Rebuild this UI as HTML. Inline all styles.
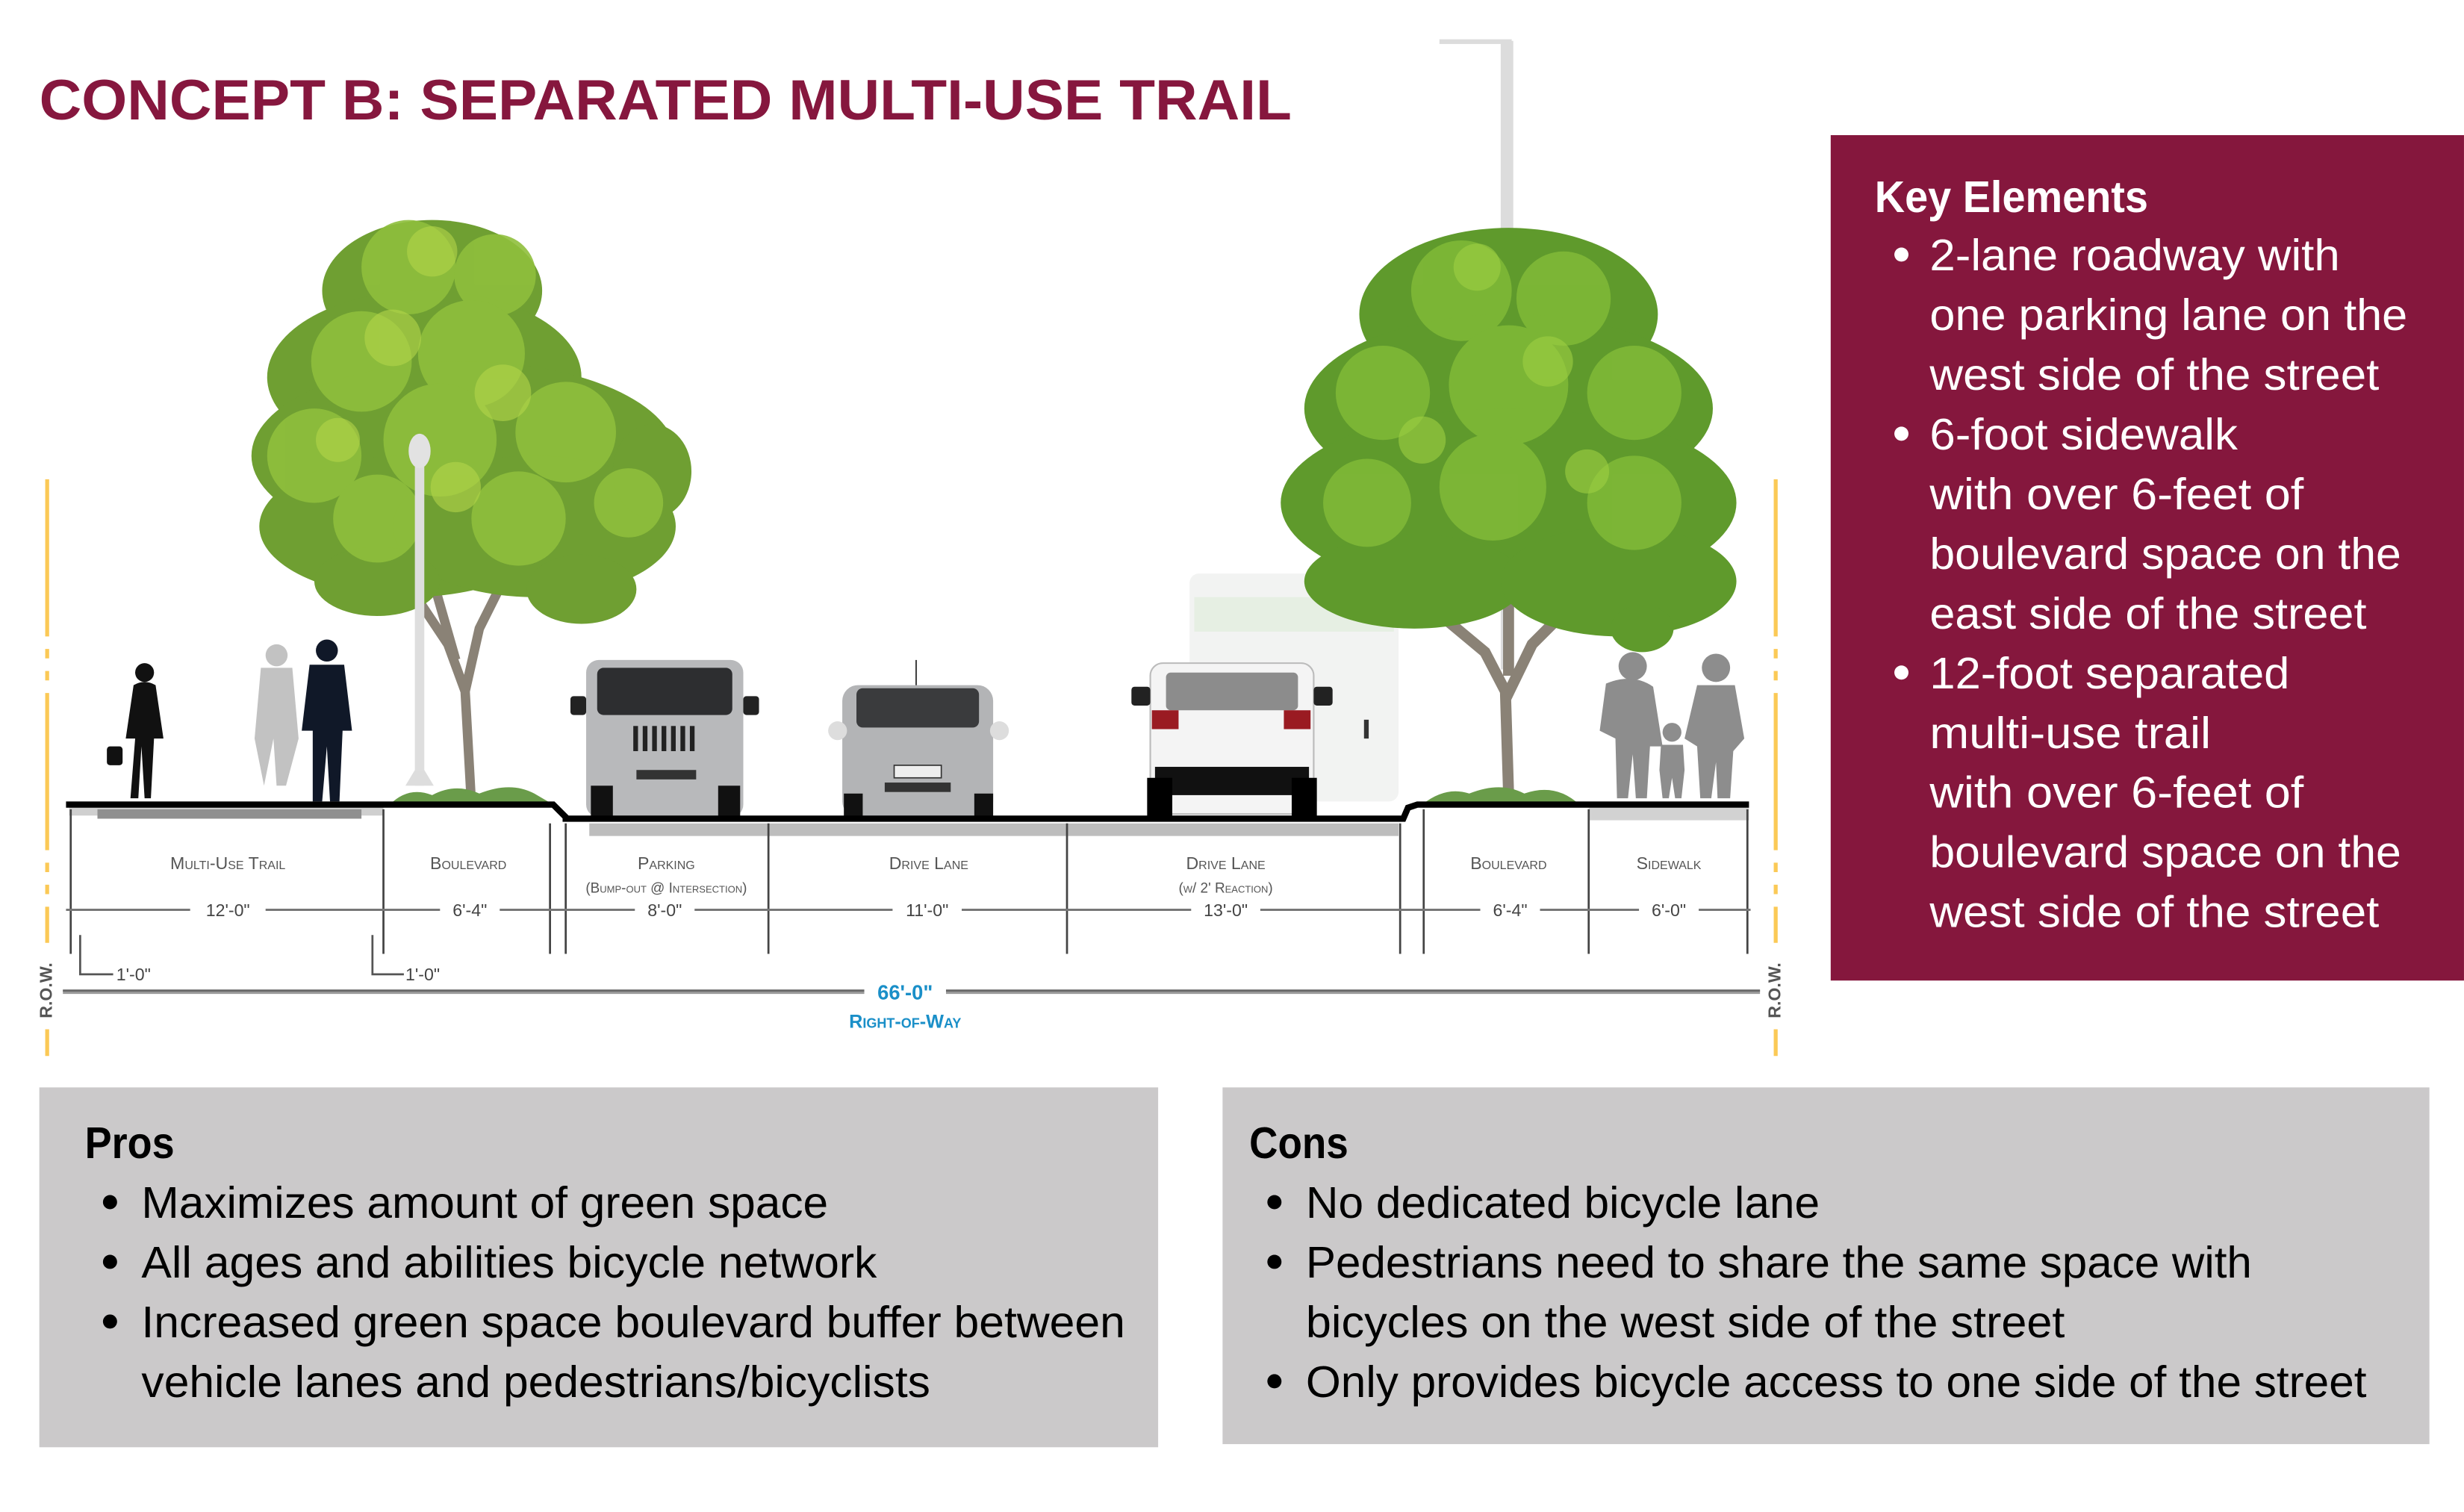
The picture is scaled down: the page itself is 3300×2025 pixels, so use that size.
<!DOCTYPE html>
<html><head><meta charset="utf-8"><style>
html,body{margin:0;padding:0;background:#fff}
svg{display:block}
.t{font-family:"Liberation Sans",sans-serif}
.n{font-family:"Liberation Sans Narrow","Liberation Sans",sans-serif}
</style></head><body>
<svg width="3300" height="2025" viewBox="0 0 1568 962.2" xmlns="http://www.w3.org/2000/svg">
<rect width="1568" height="962.2" fill="#fff"/>
<text class="t" x="25" y="76" font-size="36" font-weight="bold" fill="#86173e" textLength="797" lengthAdjust="spacingAndGlyphs">CONCEPT B: SEPARATED MULTI-USE TRAIL</text>

<rect x="955" y="26" width="8" height="400" fill="#dcdcdc"/>
<rect x="916" y="25" width="46" height="3" fill="#dcdcdc"/>
<rect x="757" y="365" width="133" height="145" rx="6" fill="#f2f3f2"/>
<rect x="760" y="380" width="127" height="22" fill="#e6efe3"/>
<rect x="868" y="458" width="3" height="12" fill="#333"/>

<!-- left tree -->
<g>
<path d="M300 512 L296 440 L285 410 L265 380 M296 440 L305 400 L320 370 M290 420 L270 350" stroke="#8a8276" stroke-width="6" fill="none"/>
<g fill="#6f9f32">
<ellipse cx="275" cy="185" rx="70" ry="45"/>
<ellipse cx="270" cy="240" rx="100" ry="55"/>
<ellipse cx="295" cy="290" rx="135" ry="60"/>
<ellipse cx="260" cy="335" rx="95" ry="45"/>
<ellipse cx="340" cy="335" rx="90" ry="45"/>
<ellipse cx="240" cy="370" rx="40" ry="22"/>
<ellipse cx="370" cy="375" rx="35" ry="22"/>
<ellipse cx="415" cy="300" rx="25" ry="30"/>
</g>
<g fill="#8fbf3c" opacity="0.9">
<circle cx="260" cy="170" r="30"/><circle cx="315" cy="175" r="26"/>
<circle cx="230" cy="230" r="32"/><circle cx="300" cy="225" r="34"/>
<circle cx="200" cy="290" r="30"/><circle cx="280" cy="280" r="36"/><circle cx="360" cy="275" r="32"/>
<circle cx="240" cy="330" r="28"/><circle cx="330" cy="330" r="30"/><circle cx="400" cy="320" r="22"/>
</g>
<g fill="#b4d64a" opacity="0.6">
<circle cx="275" cy="160" r="16"/><circle cx="250" cy="215" r="18"/><circle cx="320" cy="250" r="18"/><circle cx="215" cy="280" r="14"/><circle cx="290" cy="310" r="16"/>
</g>
</g>
<rect x="264" y="290" width="6" height="210" fill="#dedede"/>
<ellipse cx="267" cy="287" rx="7" ry="11" fill="#e2e2e2"/>
<path d="M258 500 L276 500 L270 490 L264 490Z" fill="#ddd"/>

<!-- right tree -->
<g>
<path d="M960 505 L958 440 L945 415 L915 390 M958 445 L975 410 L1000 385 M960 430 L960 380" stroke="#8a8276" stroke-width="7" fill="none"/>
<g fill="#5f9a2c">
<ellipse cx="960" cy="200" rx="95" ry="55"/>
<ellipse cx="960" cy="260" rx="130" ry="60"/>
<ellipse cx="960" cy="320" rx="145" ry="60"/>
<ellipse cx="900" cy="370" rx="70" ry="30"/>
<ellipse cx="1030" cy="370" rx="75" ry="35"/>
<ellipse cx="1045" cy="400" rx="20" ry="15"/>
</g>
<g fill="#7fb837" opacity="0.9">
<circle cx="930" cy="185" r="32"/><circle cx="995" cy="190" r="30"/>
<circle cx="880" cy="250" r="30"/><circle cx="960" cy="245" r="38"/><circle cx="1040" cy="250" r="30"/>
<circle cx="870" cy="320" r="28"/><circle cx="950" cy="310" r="34"/><circle cx="1040" cy="320" r="30"/>
</g>
<g fill="#9fd042" opacity="0.6">
<circle cx="940" cy="170" r="15"/><circle cx="985" cy="230" r="16"/><circle cx="905" cy="280" r="15"/><circle cx="1010" cy="300" r="14"/>
</g>
</g>

<path d="M248 512 Q260 500 275 506 Q290 498 305 505 Q325 497 340 505 L352 512Z" fill="#6a9c4a"/>
<path d="M905 512 Q920 500 935 505 Q955 497 970 505 Q990 498 1005 512Z" fill="#6a9c4a"/>

<g fill="#111">
<circle cx="92" cy="428" r="6"/>
<path d="M85 436 Q92 432 99 436 L104 470 L98 470 L96 508 L92 508 L90 475 L88 508 L83 508 L86 470 L80 470Z"/>
<rect x="68" y="475" width="10" height="12" rx="2"/>
</g>
<g fill="#c2c2c2">
<circle cx="176" cy="417" r="7"/>
<path d="M166 425 L186 425 L190 470 L182 500 L176 500 L174 470 L168 500 L162 470Z"/>
</g>
<g fill="#101828">
<circle cx="208" cy="414" r="7"/>
<path d="M197 423 L219 423 L224 465 L218 465 L216 510 L210 510 L208 475 L205 510 L199 510 L199 465 L192 465Z"/>
</g>
<g fill="#8d8d8d">
<circle cx="1039" cy="424" r="9"/>
<path d="M1022 435 Q1039 428 1052 437 L1058 475 L1050 475 L1048 508 L1041 508 L1039 480 L1036 508 L1029 508 L1028 470 L1018 465Z"/>
<circle cx="1064" cy="466" r="6"/>
<path d="M1057 474 L1071 474 L1072 490 L1070 508 L1066 508 L1064 495 L1062 508 L1058 508 L1056 490Z"/>
<circle cx="1092" cy="425" r="9"/>
<path d="M1080 436 L1104 436 L1110 470 L1103 478 L1101 508 L1093 508 L1092 485 L1089 508 L1082 508 L1080 475 L1072 470Z"/>
</g>

<g>
<rect x="373" y="420" width="100" height="100" rx="8" fill="#b8b9bb"/>
<rect x="380" y="425" width="86" height="30" rx="4" fill="#2d2e30"/>
<rect x="363" y="443" width="10" height="12" rx="2" fill="#222"/>
<rect x="473" y="443" width="10" height="12" rx="2" fill="#222"/>
<g fill="#222"><rect x="403" y="462" width="3" height="16"/><rect x="409" y="462" width="3" height="16"/><rect x="415" y="462" width="3" height="16"/><rect x="421" y="462" width="3" height="16"/><rect x="427" y="462" width="3" height="16"/><rect x="433" y="462" width="3" height="16"/><rect x="439" y="462" width="3" height="16"/></g>
<rect x="405" y="490" width="38" height="6" fill="#333"/>
<rect x="376" y="500" width="14" height="20" fill="#111"/><rect x="457" y="500" width="14" height="20" fill="#111"/>
</g>
<g>
<line x1="583" y1="420" x2="583" y2="437" stroke="#444" stroke-width="1"/>
<rect x="536" y="436" width="96" height="84" rx="10" fill="#b3b4b6"/>
<rect x="545" y="438" width="78" height="25" rx="4" fill="#3a3b3d"/>
<circle cx="533" cy="465" r="6" fill="#ddd"/><circle cx="636" cy="465" r="6" fill="#ddd"/>
<rect x="569" y="487" width="30" height="8" fill="#eee" stroke="#333" stroke-width="0.8"/>
<rect x="563" y="498" width="42" height="6" fill="#333"/>
<rect x="537" y="505" width="12" height="15" fill="#111"/><rect x="620" y="505" width="12" height="15" fill="#111"/>
</g>
<g>
<rect x="732" y="422" width="104" height="96" rx="8" fill="#f4f4f4" stroke="#bbb" stroke-width="1"/>
<rect x="742" y="428" width="84" height="24" rx="3" fill="#8c8c8c"/>
<rect x="720" y="437" width="12" height="12" rx="2" fill="#222"/><rect x="836" y="437" width="12" height="12" rx="2" fill="#222"/>
<rect x="733" y="452" width="17" height="12" fill="#9a1b22"/><rect x="817" y="452" width="17" height="12" fill="#9a1b22"/>
<rect x="735" y="488" width="98" height="18" fill="#111"/>
<rect x="730" y="495" width="16" height="25" fill="#000"/><rect x="822" y="495" width="16" height="25" fill="#000"/>
</g>

<rect x="44" y="513" width="200" height="6" fill="#cfcfcf"/>
<rect x="62" y="515" width="168" height="6" fill="#8f8f8f"/>
<rect x="375" y="524" width="515" height="8" fill="#bdbdbd"/>
<rect x="1011" y="514" width="102" height="8" fill="#d2d2d2"/>
<path d="M42 512 L352 512 L360 520 L360 521 L893 521 L896 514 L902 512 L1113 512" stroke="#000" stroke-width="4" fill="none"/>

<g stroke="#444" stroke-width="1.3">
<line x1="45" y1="515" x2="45" y2="607"/>
<line x1="244" y1="515" x2="244" y2="607"/>
<line x1="350" y1="524" x2="350" y2="607"/>
<line x1="360" y1="524" x2="360" y2="607"/>
<line x1="489" y1="524" x2="489" y2="607"/>
<line x1="679" y1="524" x2="679" y2="607"/>
<line x1="891" y1="524" x2="891" y2="607"/>
<line x1="906" y1="515" x2="906" y2="607"/>
<line x1="1011" y1="515" x2="1011" y2="607"/>
<line x1="1112" y1="515" x2="1112" y2="607"/>
</g>
<line x1="42" y1="579" x2="1114" y2="579" stroke="#777" stroke-width="1.4"/>
<g class="n" font-size="11" fill="#444" text-anchor="middle">
<rect x="121" y="572" width="48" height="14" fill="#fff"/><text x="145" y="583">12'-0"</text>
<rect x="280" y="572" width="38" height="14" fill="#fff"/><text x="299" y="583">6'-4"</text>
<rect x="404" y="572" width="38" height="14" fill="#fff"/><text x="423" y="583">8'-0"</text>
<rect x="568" y="572" width="44" height="14" fill="#fff"/><text x="590" y="583">11'-0"</text>
<rect x="758" y="572" width="44" height="14" fill="#fff"/><text x="780" y="583">13'-0"</text>
<rect x="942" y="572" width="38" height="14" fill="#fff"/><text x="961" y="583">6'-4"</text>
<rect x="1043" y="572" width="38" height="14" fill="#fff"/><text x="1062" y="583">6'-0"</text>
</g>
<g class="n" font-size="11" fill="#555" text-anchor="middle" style="font-variant:small-caps">
<text x="145" y="553">Multi-Use Trail</text>
<text x="298" y="553">Boulevard</text>
<text x="424" y="553">Parking</text>
<text x="424" y="568" font-size="9">(Bump-out @ Intersection)</text>
<text x="591" y="553">Drive Lane</text>
<text x="780" y="553">Drive Lane</text>
<text x="780" y="568" font-size="9">(w/ 2' Reaction)</text>
<text x="960" y="553">Boulevard</text>
<text x="1062" y="553">Sidewalk</text>
</g>
<path d="M51 595 L51 620 L72 620" stroke="#555" stroke-width="1.3" fill="none"/>
<path d="M237 595 L237 620 L257 620" stroke="#555" stroke-width="1.3" fill="none"/>
<g class="n" font-size="11" fill="#444"><text x="74" y="624">1'-0"</text><text x="258" y="624">1'-0"</text></g>
<line x1="40" y1="631" x2="1120" y2="631" stroke="#999" stroke-width="3"/>
<line x1="40" y1="630.5" x2="1120" y2="630.5" stroke="#666" stroke-width="1"/>
<rect x="550" y="623" width="52" height="16" fill="#fff"/>
<g class="n" fill="#1a8fc8" text-anchor="middle" font-weight="bold">
<text x="576" y="636" font-size="13">66'-0"</text>
<text x="576" y="654" font-size="12" style="font-variant:small-caps">Right-of-Way</text>
</g>
<g stroke="#fbc956" stroke-width="2.5" stroke-dasharray="100 8 6 8 6 8">
<line x1="30" y1="305" x2="30" y2="600"/>
<line x1="1130" y1="305" x2="1130" y2="600"/>
</g>
<line x1="30" y1="655" x2="30" y2="672" stroke="#fbc956" stroke-width="2.5"/>
<line x1="1130" y1="655" x2="1130" y2="672" stroke="#fbc956" stroke-width="2.5"/>
<g class="n" font-size="11" fill="#555" font-weight="bold">
<text transform="translate(33,648) rotate(-90)">R.O.W.</text>
<text transform="translate(1133,648) rotate(-90)">R.O.W.</text>
</g>

<rect x="1165" y="86" width="403" height="538" fill="#85173d"/>
<g class="t" fill="#fff" font-size="28">
<text x="1193" y="135" font-weight="bold" textLength="174" lengthAdjust="spacingAndGlyphs">Key Elements</text>
<circle cx="1210" cy="162" r="4.5"/><circle cx="1210" cy="276" r="4.5"/><circle cx="1210" cy="428" r="4.5"/>
<text x="1228" y="172" textLength="261" lengthAdjust="spacingAndGlyphs">2-lane roadway with</text>
<text x="1228" y="210" textLength="304" lengthAdjust="spacingAndGlyphs">one parking lane on the</text>
<text x="1228" y="248" textLength="286" lengthAdjust="spacingAndGlyphs">west side of the street</text>
<text x="1228" y="286" textLength="196" lengthAdjust="spacingAndGlyphs">6-foot sidewalk</text>
<text x="1228" y="324" textLength="238" lengthAdjust="spacingAndGlyphs">with over 6-feet of</text>
<text x="1228" y="362" textLength="300" lengthAdjust="spacingAndGlyphs">boulevard space on the</text>
<text x="1228" y="400" textLength="278" lengthAdjust="spacingAndGlyphs">east side of the street</text>
<text x="1228" y="438" textLength="229" lengthAdjust="spacingAndGlyphs">12-foot separated</text>
<text x="1228" y="476" textLength="179" lengthAdjust="spacingAndGlyphs">multi-use trail</text>
<text x="1228" y="514" textLength="238" lengthAdjust="spacingAndGlyphs">with over 6-feet of</text>
<text x="1228" y="552" textLength="300" lengthAdjust="spacingAndGlyphs">boulevard space on the</text>
<text x="1228" y="590" textLength="286" lengthAdjust="spacingAndGlyphs">west side of the street</text>
</g>

<rect x="25" y="692" width="712" height="229" fill="#cbc9ca"/>
<g class="t" fill="#000" font-size="28">
<text x="54" y="737" font-weight="bold" textLength="57" lengthAdjust="spacingAndGlyphs">Pros</text>
<circle cx="70" cy="765" r="4.5"/><circle cx="70" cy="803" r="4.5"/><circle cx="70" cy="841" r="4.5"/>
<text x="90" y="775" textLength="437" lengthAdjust="spacingAndGlyphs">Maximizes amount of green space</text>
<text x="90" y="813" textLength="468" lengthAdjust="spacingAndGlyphs">All ages and abilities bicycle network</text>
<text x="90" y="851" textLength="626" lengthAdjust="spacingAndGlyphs">Increased green space boulevard buffer between</text>
<text x="90" y="889" textLength="502" lengthAdjust="spacingAndGlyphs">vehicle lanes and pedestrians/bicyclists</text>
</g>
<rect x="778" y="692" width="768" height="227" fill="#cbc9ca"/>
<g class="t" fill="#000" font-size="28">
<text x="795" y="737" font-weight="bold" textLength="63" lengthAdjust="spacingAndGlyphs">Cons</text>
<circle cx="811" cy="765" r="4.5"/><circle cx="811" cy="803" r="4.5"/><circle cx="811" cy="879" r="4.5"/>
<text x="831" y="775" textLength="327" lengthAdjust="spacingAndGlyphs">No dedicated bicycle lane</text>
<text x="831" y="813" textLength="602" lengthAdjust="spacingAndGlyphs">Pedestrians need to share the same space with</text>
<text x="831" y="851" textLength="483" lengthAdjust="spacingAndGlyphs">bicycles on the west side of the street</text>
<text x="831" y="889" textLength="675" lengthAdjust="spacingAndGlyphs">Only provides bicycle access to one side of the street</text>
</g>
</svg>
</body></html>
